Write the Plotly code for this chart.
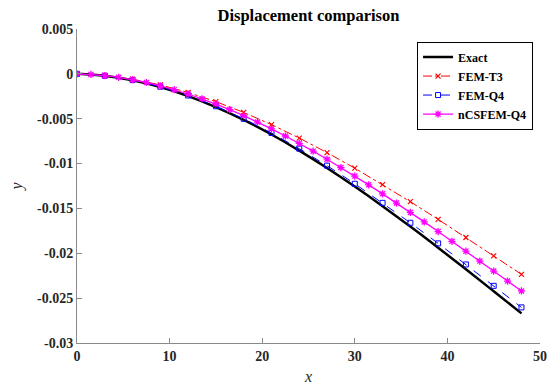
import plotly.graph_objects as go

# Node positions and values
x3 = [0, 3, 6, 9, 12, 15, 18, 21, 24, 27, 30, 33, 36, 39, 42, 45, 48]
x15 = [0, 1.5, 3, 4.5, 6, 7.5, 9, 10.5, 12, 13.5, 15, 16.5, 18, 19.5, 21, 22.5,
       24, 25.5, 27, 28.5, 30, 31.5, 33, 34.5, 36, 37.5, 39, 40.5, 42, 43.5, 45, 46.5, 48]

exact = [0, -0.000216, -0.000713, -0.001472, -0.002475, -0.003703, -0.005138, -0.006759,
         -0.008550, -0.010491, -0.012563, -0.014747, -0.017025, -0.019378, -0.021788,
         -0.024234, -0.026700]
fem_t3 = [0, -0.000180, -0.000596, -0.001232, -0.002072, -0.003099, -0.004300, -0.005657,
          -0.007156, -0.008781, -0.010515, -0.012343, -0.014250, -0.016219, -0.018237,
          -0.020284, -0.022348]
fem_q4 = [0, -0.000210, -0.000695, -0.001435, -0.002413, -0.003610, -0.005010, -0.006590,
          -0.008336, -0.010229, -0.012249, -0.014378, -0.016599, -0.018894, -0.021243,
          -0.023628, -0.026030]
ncsfem_q4 = [0, -0.0000648, -0.000196, -0.000390, -0.000646, -0.000962, -0.001335, -0.001763,
             -0.002245, -0.002777, -0.003359, -0.003987, -0.004660, -0.005375, -0.006130,
             -0.006925, -0.007755, -0.008619, -0.009515, -0.010441, -0.011395, -0.012373,
             -0.013376, -0.014399, -0.015442, -0.016501, -0.017576, -0.018663, -0.019762,
             -0.020868, -0.021980, -0.023098, -0.024200]

xticks = [0, 10, 20, 30, 40, 50]
yticks = [0.005, 0, -0.005, -0.01, -0.015, -0.02, -0.025, -0.03]
yticklabels = ["0.005", "0", "-0.005", "-0.01", "-0.015", "-0.02", "-0.025", "-0.03"]

FONT = "Liberation Serif"
AX = "#8a8a8a"

fig = go.Figure()
fig.add_trace(go.Scatter(x=x3, y=exact, mode="lines", name="Exact",
                         line=dict(color="black", width=2.5), line_shape="spline"))
fig.add_trace(go.Scatter(x=x3, y=fem_t3, mode="lines+markers", name="FEM-T3",
                         line=dict(color="red", width=1, dash="dashdot"),
                         marker=dict(symbol="x-thin-open", size=5,
                                     line=dict(color="red", width=1.2))))
fig.add_trace(go.Scatter(x=x3, y=fem_q4, mode="lines+markers", name="FEM-Q4",
                         line=dict(color="blue", width=1, dash="dash"),
                         marker=dict(symbol="square-open", size=5, color="blue",
                                     line=dict(color="blue", width=1))))
fig.add_trace(go.Scatter(x=x15, y=ncsfem_q4, mode="lines+markers", name="nCSFEM-Q4",
                         line=dict(color="magenta", width=1.3),
                         marker=dict(symbol="asterisk-open", size=6,
                                     line=dict(color="magenta", width=1.3))))

fig.update_layout(
    width=555, height=385,
    margin=dict(l=77, r=15, t=29, b=42),
    paper_bgcolor="white", plot_bgcolor="white",
    font=dict(family=FONT, color="#262626"),
    title=dict(text="<b>Displacement comparison</b>", x=0.5, xref="paper", xanchor="center",
               y=0.961, yref="container", yanchor="middle",
               font=dict(size=16.5, color="black", family=FONT)),
    xaxis=dict(range=[0, 50], tickvals=xticks, ticks="inside", ticklen=5, tickcolor=AX,
               showline=True, linecolor=AX, linewidth=1, showgrid=False, zeroline=False,
               automargin=False,
               tickfont=dict(size=14, family=FONT, weight="bold", color="#262626"),
               title=dict(text="<i>x</i>", font=dict(size=16, family=FONT), standoff=10)),
    yaxis=dict(range=[-0.03, 0.005], tickvals=yticks, ticktext=yticklabels, ticks="inside",
               ticklen=5, tickcolor=AX, showline=True, linecolor=AX, linewidth=1,
               showgrid=False, zeroline=False, automargin=False,
               tickfont=dict(size=14, family=FONT, weight="bold", color="#262626"),
               title=dict(text="<i>y</i>", font=dict(size=16, family=FONT), standoff=10)),
    legend=dict(x=0.985, xanchor="right", y=0.96, yanchor="top", bgcolor="white",
                bordercolor="black", borderwidth=1,
                font=dict(size=12, family=FONT, weight="bold", color="black"),
                tracegroupgap=0, itemwidth=30),
    showlegend=True,
)

fig.write_html("out.html")
